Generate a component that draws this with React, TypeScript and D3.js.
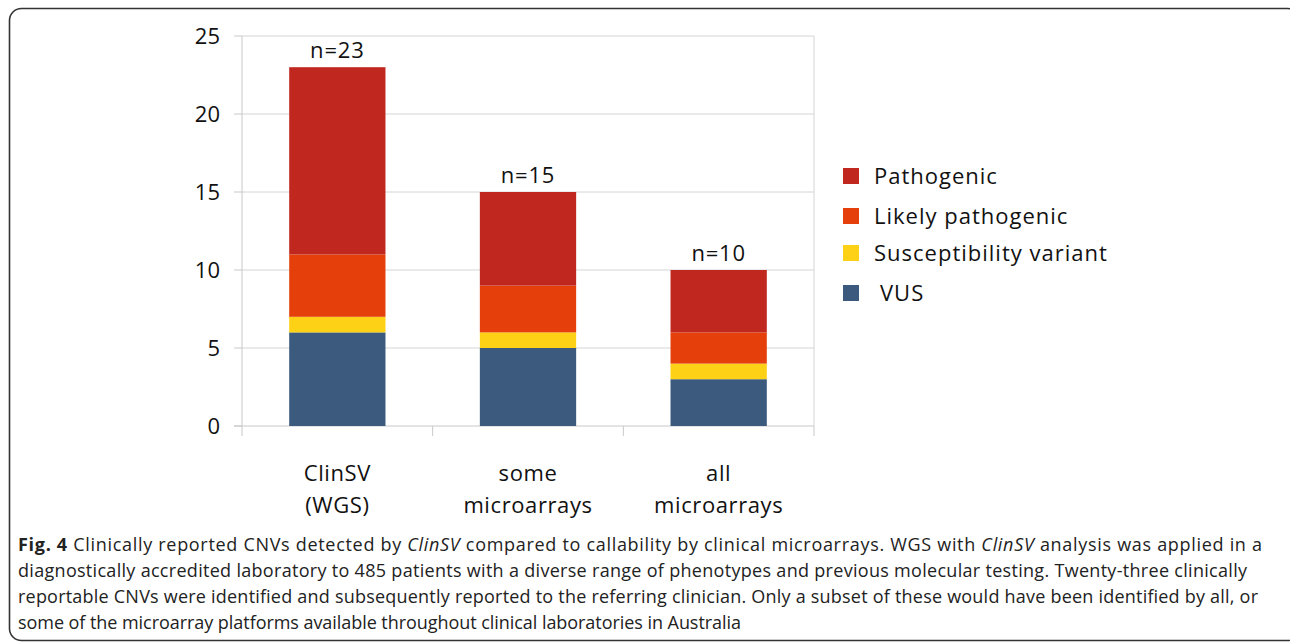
import React from 'react';
import * as d3 from 'd3';

const categories = ['ClinSV|(WGS)', 'some|microarrays', 'all|microarrays'];
const seriesNames = ['VUS', 'Susceptibility variant', 'Likely pathogenic', 'Pathogenic'];
const vus = [6, 5, 3];
const susceptibility = [1, 1, 1];
const likelyPathogenic = [4, 3, 2];
const pathogenic = [12, 6, 4];
const totals = ['n=23', 'n=15', 'n=10'];
const yTicks = [0, 5, 10, 15, 20, 25];
const colors = ['#3c5a7e', '#fcd116', '#e5400c', '#c0271f'];

const FONT = '"Open Sans", "Noto Sans", sans-serif';

const App: React.FC = () => {
  const width = 1290;
  const height = 643;
  const plot = { left: 242, right: 814, top: 36, bottom: 426 };

  const x = d3.scaleBand<string>()
    .domain(categories)
    .range([plot.left, plot.right])
    .paddingInner(0)
    .paddingOuter(0);
  const y = d3.scaleLinear().domain([0, 25]).range([plot.bottom, plot.top]);

  const rows = categories.map((c, i) => ({
    cat: c,
    VUS: vus[i],
    'Susceptibility variant': susceptibility[i],
    'Likely pathogenic': likelyPathogenic[i],
    Pathogenic: pathogenic[i],
  }));
  const stacked = d3.stack<any>().keys(seriesNames)(rows);
  const barW = x.bandwidth() * 0.505;

  const legendOrder = [3, 2, 1, 0];
  const legendY = [176, 216, 253, 293];

  const captionLines = [
    [
      { t: 'Fig. 4', w: 'bold' },
      { t: ' Clinically reported CNVs detected by ' },
      { t: 'ClinSV', i: true },
      { t: ' compared to callability by clinical microarrays. WGS with ' },
      { t: 'ClinSV', i: true },
      { t: ' analysis was applied in a' },
    ],
    [{ t: 'diagnostically accredited laboratory to 485 patients with a diverse range of phenotypes and previous molecular testing. Twenty-three clinically' }],
    [{ t: 'reportable CNVs were identified and subsequently reported to the referring clinician. Only a subset of these would have been identified by all, or' }],
    [{ t: 'some of the microarray platforms available throughout clinical laboratories in Australia' }],
  ] as { t: string; w?: string; i?: boolean }[][];
  const captionWidths = [1244, 1229, 1240, 723];

  return (
    <svg width={width} height={height} style={{ position: 'absolute', left: 0, top: 0 }} fontFamily={FONT}>
      <rect x={0} y={0} width={width} height={height} fill="#fff" />
      <rect x={9.5} y={8.5} width={1290} height={632} rx={12} fill="none" stroke="#333" strokeWidth={1.6} />

      {/* grid */}
      {yTicks.filter(t => t > 0).map(t => (
        <line key={'g' + t} x1={plot.left} x2={plot.right} y1={y(t)} y2={y(t)} stroke="#d4d4d4" strokeWidth={1} />
      ))}
      <line x1={plot.right} x2={plot.right} y1={plot.top} y2={plot.bottom} stroke="#d4d4d4" strokeWidth={1} />
      <line x1={plot.left} x2={plot.left} y1={plot.top} y2={plot.bottom} stroke="#c8c8c8" strokeWidth={1} />
      {yTicks.map(t => (
        <g key={'t' + t}>
          <line x1={plot.left - 8} x2={plot.left} y1={y(t)} y2={y(t)} stroke="#c8c8c8" />
          <text x={plot.left - 22} y={y(t)} dy="0.35em" textAnchor="end" fontSize={22} fill="#111">{t}</text>
        </g>
      ))}
      <line x1={plot.left - 8} x2={plot.right} y1={plot.bottom} y2={plot.bottom} stroke="#c8c8c8" />
      {[...categories.map(c => x(c) as number), plot.right].map((v, i) => (
        <line key={'ct' + i} x1={v} x2={v} y1={plot.bottom} y2={plot.bottom + 10} stroke="#c8c8c8" />
      ))}

      {/* bars */}
      {stacked.map((s, si) => (
        <g key={s.key} fill={colors[si]}>
          {s.map((d, i) => {
            const cx = (x(categories[i]) as number) + x.bandwidth() / 2;
            return <rect key={i} x={cx - barW / 2} width={barW} y={y(d[1])} height={y(d[0]) - y(d[1])} />;
          })}
        </g>
      ))}

      {/* totals */}
      {categories.map((c, i) => {
        const cx = (x(c) as number) + x.bandwidth() / 2;
        const top = vus[i] + susceptibility[i] + likelyPathogenic[i] + pathogenic[i];
        return <text key={'n' + i} x={cx} y={y(top) - 9} textAnchor="middle" fontSize={22} letterSpacing={0.8} fill="#111">{totals[i]}</text>;
      })}

      {/* category labels */}
      {categories.map((c, i) => {
        const cx = (x(c) as number) + x.bandwidth() / 2;
        const parts = c.split('|');
        return (
          <text key={'c' + i} x={cx} textAnchor="middle" fontSize={22} letterSpacing={0.6} fill="#111">
            {parts.map((p, j) => <tspan key={j} x={cx} y={481 + j * 32}>{p}</tspan>)}
          </text>
        );
      })}

      {/* legend */}
      {legendOrder.map((si, k) => (
        <g key={'l' + si}>
          <rect x={843} y={legendY[k] - 8} width={16} height={16} fill={colors[si]} />
          <text x={si === 0 ? 880 : 874} y={legendY[k]} dy="0.35em" fontSize={22} letterSpacing={1} fill="#111">{seriesNames[si]}</text>
        </g>
      ))}

      {/* caption */}
      {captionLines.map((line, li) => (
        <text key={'cap' + li} x={18} y={551 + li * 26} fontSize={18} fill="#222" fontFamily={FONT}
          textLength={captionWidths[li]} lengthAdjust="spacing">
          {line.map((p, pi) => (
            <tspan key={pi} fontWeight={p.w || 'normal'} fontStyle={p.i ? 'italic' : 'normal'}>{p.t}</tspan>
          ))}
        </text>
      ))}
    </svg>
  );
};

export default App;
